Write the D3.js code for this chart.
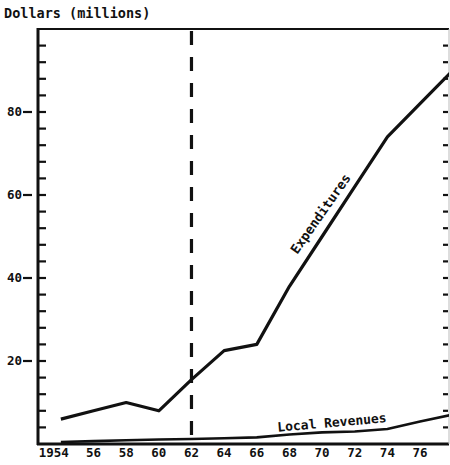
<!DOCTYPE html>
<html>
<head>
<meta charset="utf-8">
<script src="https://cdn.jsdelivr.net/npm/d3@7"></script>
<style>
  body { margin: 0; background: #fff; }
  text { font-family: "DejaVu Sans Mono", "Liberation Mono", monospace; font-weight: bold; fill: #111; }
</style>
</head>
<body>
<svg id="chart" width="450" height="465"></svg>
<script>
// data
const years = [1954, 1956, 1958, 1960, 1962, 1964, 1966, 1968, 1970, 1972, 1974, 1976, 1978];
const expenditures = [6, 8, 10, 8, 15.5, 22.5, 24, 38, 50, 62, 74, 82, 90];
const localRevenues = [0.5, 0.7, 0.9, 1.1, 1.2, 1.4, 1.6, 2.3, 2.8, 3.0, 3.6, 5.4, 7.1];
const xTickYears = [1954, 1956, 1958, 1960, 1962, 1964, 1966, 1968, 1970, 1972, 1974, 1976];
const yLabelTicks = [20, 40, 60, 80];
const markerYear = 1962;

const svg = d3.select('#chart');

const pLeft = 38, pRight = 449, pTop = 29, pBottom = 444;

const x = d3.scaleLinear()
    .domain([1952.6, 1977.65])
    .range([pLeft, pRight - 2]);

const y = d3.scaleLinear()
    .domain([0, 100])
    .range([pBottom, pTop]);

svg.append('defs').append('clipPath')
    .attr('id', 'plot-clip')
    .append('rect')
    .attr('x', pLeft).attr('y', pTop)
    .attr('width', pRight - pLeft).attr('height', pBottom - pTop);

/* axis title */
svg.append('text')
    .attr('x', 4)
    .attr('y', 18)
    .style('font-size', '13.5px')
    .text('Dollars (millions)');

/* frame: left, bottom, top */
svg.append('line')
    .attr('x1', pLeft).attr('x2', pLeft)
    .attr('y1', pTop - 1).attr('y2', pBottom + 1)
    .attr('stroke', '#111').attr('stroke-width', 3);

svg.append('line')
    .attr('x1', pLeft - 1).attr('x2', pRight)
    .attr('y1', pBottom).attr('y2', pBottom)
    .attr('stroke', '#111').attr('stroke-width', 3);

svg.append('line')
    .attr('x1', pLeft).attr('x2', pRight)
    .attr('y1', pTop).attr('y2', pTop)
    .attr('stroke', '#111').attr('stroke-width', 2);

/* right edge, mostly faded in the scan */
svg.append('line')
    .attr('x1', pRight).attr('x2', pRight)
    .attr('y1', pTop).attr('y2', pBottom)
    .attr('stroke', '#bbb').attr('stroke-width', 1);

/* minor ticks every 4 units, inward on both sides */
const minor = d3.range(4, 100, 4);

svg.append('g')
    .selectAll('line')
    .data(minor)
    .join('line')
    .attr('x1', pLeft).attr('x2', pLeft + 8)
    .attr('y1', (d) => y(d)).attr('y2', (d) => y(d))
    .attr('stroke', '#111').attr('stroke-width', 2.2);

svg.append('g')
    .selectAll('line')
    .data(minor)
    .join('line')
    .attr('x1', pRight - 6).attr('x2', pRight - 1)
    .attr('y1', (d) => y(d)).attr('y2', (d) => y(d))
    .attr('stroke', '#111').attr('stroke-width', 2.2);

/* labelled y ticks */
const yl = svg.append('g')
    .selectAll('g')
    .data(yLabelTicks)
    .join('g')
    .attr('transform', (d) => `translate(0, ${y(d)})`);

yl.append('text')
    .attr('x', 22)
    .attr('dy', '0.35em')
    .attr('text-anchor', 'end')
    .style('font-size', '12.5px')
    .text((d) => d);

yl.append('line')
    .attr('x1', 23).attr('x2', 32)
    .attr('stroke', '#111').attr('stroke-width', 2.2);

/* x labels */
svg.append('g')
    .selectAll('text')
    .data(xTickYears)
    .join('text')
    .attr('x', (d) => x(d) + (d === 1954 ? -7 : 0))
    .attr('y', 457)
    .attr('text-anchor', 'middle')
    .style('font-size', '12.5px')
    .text((d) => (d === 1954 ? '1954' : String(d).slice(2)));

/* dashed marker */
svg.append('line')
    .attr('x1', x(markerYear)).attr('x2', x(markerYear))
    .attr('y1', pTop + 2).attr('y2', pBottom - 2)
    .attr('stroke', '#111')
    .attr('stroke-width', 3.2)
    .attr('stroke-dasharray', '14 12');

const plot = svg.append('g').attr('clip-path', 'url(#plot-clip)');

const line = (vals) => d3.line()
    .x((d, i) => x(years[i]))
    .y((d) => y(d))(vals);

plot.append('path')
    .attr('d', line(expenditures))
    .attr('fill', 'none')
    .attr('stroke', '#111')
    .attr('stroke-width', 3.2)
    .attr('stroke-linejoin', 'round');

plot.append('path')
    .attr('d', line(localRevenues))
    .attr('fill', 'none')
    .attr('stroke', '#111')
    .attr('stroke-width', 2.6)
    .attr('stroke-linejoin', 'round');

/* series labels */
svg.append('text')
    .attr('transform', `translate(${x(1969.9)}, ${y(55.5)}) rotate(-55)`)
    .attr('text-anchor', 'middle')
    .attr('dy', '0.35em')
    .style('font-size', '13px')
    .text('Expenditures');

svg.append('text')
    .attr('transform', `translate(${x(1970.6)}, ${y(5.2)}) rotate(-5)`)
    .attr('text-anchor', 'middle')
    .attr('dy', '0.35em')
    .style('font-size', '13px')
    .text('Local Revenues');
</script>
</body>
</html>
